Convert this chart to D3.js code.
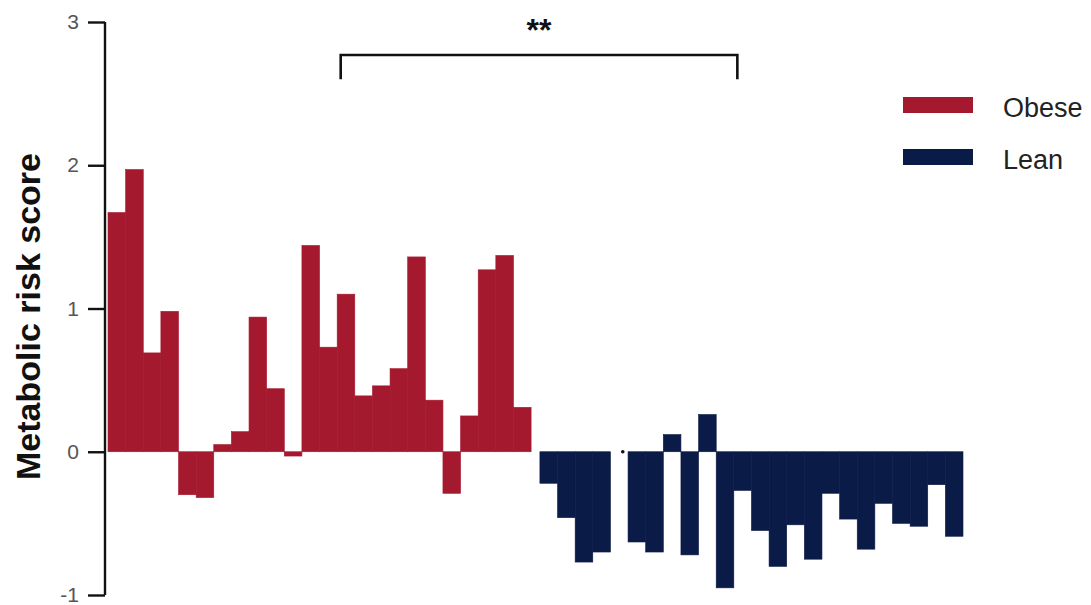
<!DOCTYPE html>
<html lang="en">
<head>
    <meta charset="UTF-8">
    <title>Metabolic risk score</title>
    <script src="https://cdnjs.cloudflare.com/ajax/libs/d3/7.6.1/d3.min.js"></script>
    <style>
        body { margin: 0; background: #fff; }
        text { font-family: "Liberation Sans", Arial, sans-serif; }
    </style>
</head>
<body>
<svg id="chart" width="1091" height="605"></svg>
<script>

    // values, one bar per subject
    const obese = [1.67, 1.97, 0.69, 0.98, -0.30, -0.32, 0.05, 0.14, 0.94, 0.44, -0.03, 1.44,
                   0.73, 1.10, 0.39, 0.46, 0.58, 1.36, 0.36, -0.29, 0.25, 1.27, 1.37, 0.31]
    const lean = [-0.22, -0.46, -0.77, -0.70, 0, -0.63, -0.70, 0.12, -0.72, 0.26, -0.95, -0.27,
                  -0.55, -0.80, -0.51, -0.75, -0.29, -0.47, -0.68, -0.36, -0.50, -0.52, -0.23, -0.59]
    const groups = ["Obese", "Lean"]
    const colors = ["#a5192f", "#0b1b48"]
    const yTicks = [-1, 0, 1, 2, 3]
    const yLabel = "Metabolic risk score"
    const signif = "**"

    const svg = d3.select("#chart")

    // slot positions: lean group starts half a slot after the obese group
    const gapSlots = 0.5
    const leanStart = obese.length + gapSlots
    const x = d3.scaleLinear()
        .domain([0, leanStart + lean.length])
        .range([108, 963])

    const y = d3.scaleLinear()
        .domain([-1, 3])
        .range([595, 22])

    const bars = obese.map((v, i) => ({slot: i, value: v, group: 0}))
        .concat(lean.map((v, i) => ({slot: leanStart + i, value: v, group: 1})))

    svg.append("g")
        .selectAll("rect")
        .data(bars)
        .join("rect")
        .attr("x", d => x(d.slot))
        .attr("width", d => x(d.slot + 1) - x(d.slot))
        .attr("y", d => y(Math.max(0, d.value)))
        .attr("height", d => Math.abs(y(d.value) - y(0)))
        .attr("fill", d => colors[d.group])
        .attr("stroke", d => colors[d.group])
        .attr("stroke-width", 0.6)

    // little dots where a bar is zero
    svg.append("g")
        .selectAll("circle")
        .data(bars.filter(d => d.value === 0))
        .join("circle")
        .attr("cx", d => x(d.slot + 0.7))
        .attr("cy", y(0))
        .attr("r", 1.8)
        .attr("fill", "#111")

    // y axis
    const yAxis = svg.append("g")
        .attr("transform", "translate(105,0)")
        .call(d3.axisLeft(y).tickValues(yTicks).tickSize(17).tickPadding(9).tickFormat(d => String(d)))
    yAxis.select(".domain").attr("stroke", "#111").attr("stroke-width", 2.4)
        .attr("d", `M0,${y(3)}V${y(-1)}`)
    yAxis.selectAll(".tick line").attr("stroke", "#111").attr("stroke-width", 2.4)
    yAxis.selectAll(".tick text")
        .attr("font-size", 21)
        .attr("fill", "#555")
        .style("font-family", "'Liberation Sans', Arial, sans-serif")

    svg.append("text")
        .attr("transform", `translate(40,${(y(3) + y(-1)) / 2 + 8}) rotate(-90)`)
        .attr("text-anchor", "middle")
        .attr("font-size", 34)
        .attr("font-weight", "bold")
        .attr("fill", "#111")
        .text(yLabel)

    // significance bracket
    const bracket = {from: 13.2, to: 35.7, top: 2.77, bottom: 2.6}
    svg.append("path")
        .attr("d", `M${x(bracket.from)},${y(bracket.bottom)}V${y(bracket.top)}H${x(bracket.to)}V${y(bracket.bottom)}`)
        .attr("fill", "none")
        .attr("stroke", "#111")
        .attr("stroke-width", 2.6)
    svg.append("text")
        .attr("x", (x(bracket.from) + x(bracket.to)) / 2)
        .attr("y", 41)
        .attr("text-anchor", "middle")
        .attr("font-size", 32)
        .attr("font-weight", "bold")
        .attr("fill", "#111")
        .text(signif)

    // legend
    const legend = svg.append("g")
        .selectAll("g")
        .data(groups)
        .join("g")
        .attr("transform", (d, i) => `translate(903,${97 + i * 52})`)
    legend.append("rect")
        .attr("width", 70)
        .attr("height", 16)
        .attr("fill", (d, i) => colors[i])
    legend.append("text")
        .attr("x", 100)
        .attr("y", 20)
        .attr("font-size", 27)
        .attr("fill", "#222")
        .text(d => d)

</script>
</body>
</html>
